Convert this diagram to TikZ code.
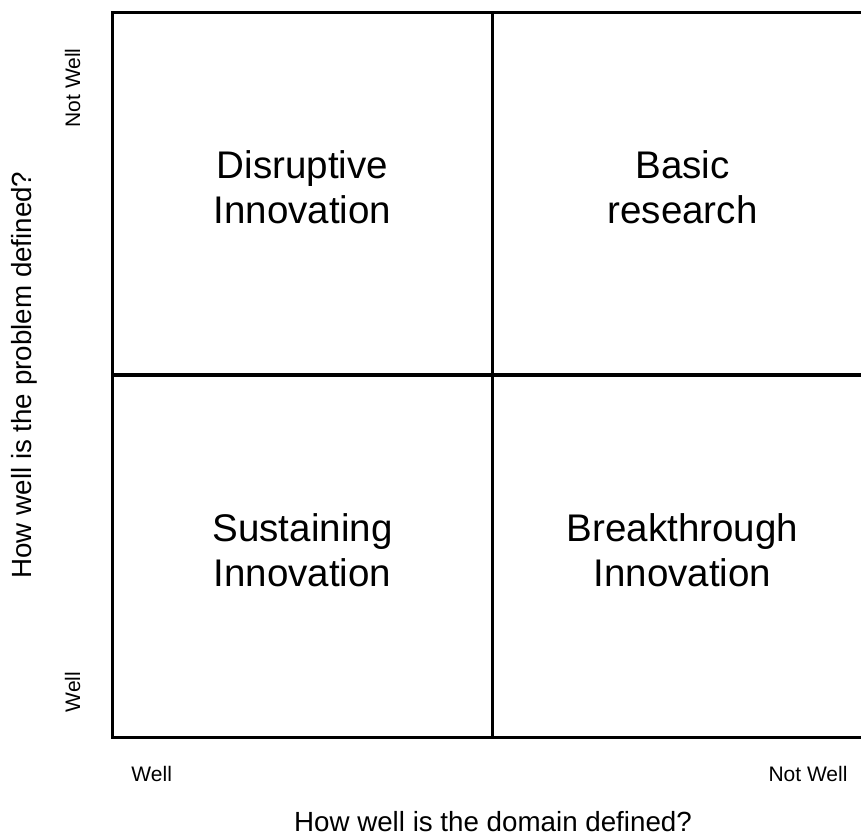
\documentclass[tikz,border=0pt]{standalone}
\usepackage{fontspec}
\setmainfont{Liberation Sans}
\usetikzlibrary{positioning}

\begin{document}
\begin{tikzpicture}[
    x=0.75pt, y=-0.75pt,
    cell/.style={
      rectangle, draw=black, line width=2.6pt, outer sep=0pt, inner sep=0pt,
      minimum width=285pt, minimum height=271.875pt, align=center,
      text depth=10pt, font=\fontsize{28.9}{33.75}\selectfont,
    },
    tick/.style={font=\fontsize{15.75}{18}\selectfont},
    axis/.style={font=\fontsize{20.8}{24}\selectfont}
  ]
  \useasboundingbox (0,0) rectangle (861,837);

  %% --- quadrants (right edge runs off the page) ---
  \begin{scope}
    \clip (0,0) rectangle (861,837);
    \node[cell] (disr) at (302.5,193.75) {Disruptive\\Innovation};
    \node[cell, right=0pt of disr] (basic) {Basic\\research};
    \node[cell, below=0pt of disr] (sust) {Sustaining\\Innovation};
    \node[cell, right=0pt of sust] (brk) {Breakthrough\\Innovation};
  \end{scope}

  %% --- scale labels ---
  \node[tick, rotate=90] (yhi) at (72.5,88) {Not Well};
  \node[tick, rotate=90] (ylo) at (72.5,692) {Well};
  \node[tick] (xlo) at (151.7,774) {Well};
  \node[tick] (xhi) at (808,774) {Not Well};

  %% --- axis titles ---
  \node[axis] (xtitle) at (493,822) {How well is the domain defined?};
  \node[axis, rotate=90] (ytitle) at (24.5,375) {How well is the problem defined?};
\end{tikzpicture}
\end{document}
